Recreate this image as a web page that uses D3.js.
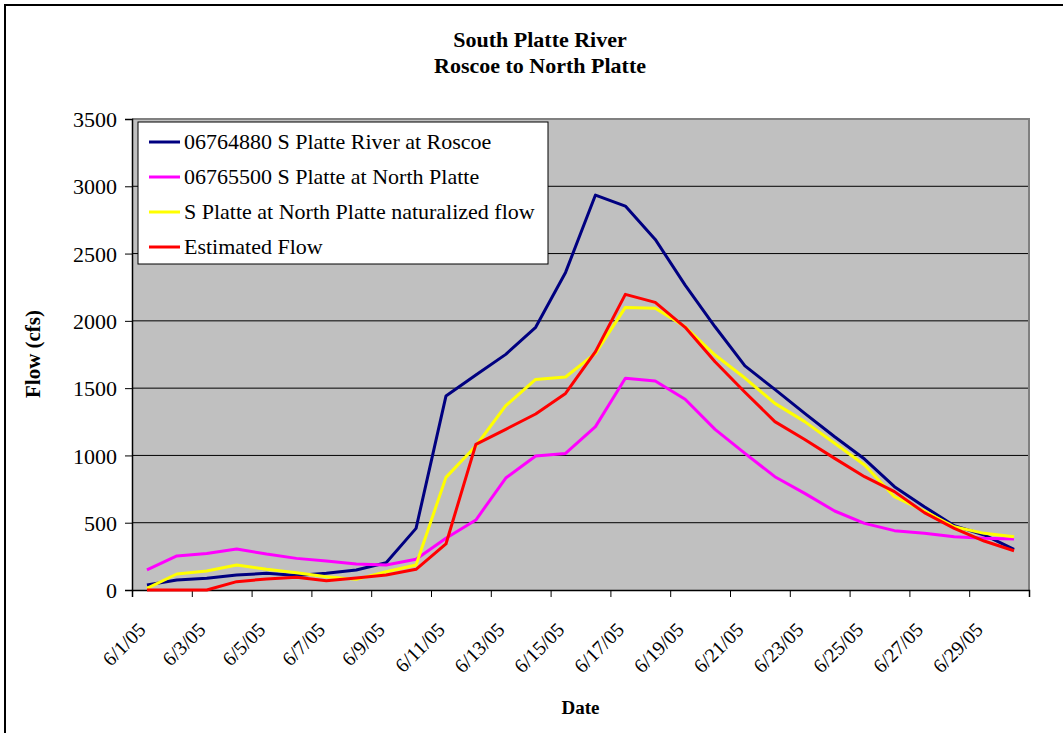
<!DOCTYPE html>
<html>
<head>
<meta charset="utf-8">
<title>South Platte River</title>
<style>
  body { margin: 0; background: #fff; }
  svg text { font-family: "Liberation Serif", "Times New Roman", serif; fill: #000; }
</style>
</head>
<body>
<div id="chart"></div>
<script src="https://d3js.org/d3.v7.min.js"></script>
<script>

// dates 6/1/05 .. 6/30/05
var days = d3.range(1, 31).map(function(d) { return "6/" + d + "/05"; });

var roscoe = [37, 74, 87, 111, 124, 107, 124, 149, 203, 458,
              1441, 1597, 1751, 1952, 2360, 2935, 2853, 2605, 2266, 1956,
              1665, 1491, 1313, 1139, 973, 768, 619, 478, 409, 302];

var northPlatte = [149, 253, 272, 305, 267, 235, 215, 193, 186, 228,
                   384, 520, 832, 996, 1015, 1214, 1573, 1553, 1417, 1194,
                   1015, 842, 718, 587, 495, 441, 421, 396, 384, 379];

var naturalized = [12, 119, 141, 186, 154, 129, 99, 79, 136, 186,
                   837, 1070, 1370, 1565, 1583, 1758, 2100, 2093, 1956, 1746,
                   1575, 1387, 1251, 1090, 929, 693, 587, 470, 421, 396];

var estimated = [0, 0, 0, 62, 82, 94, 69, 89, 111, 154,
                 342, 1082, 1194, 1308, 1461, 1771, 2197, 2137, 1952, 1696,
                 1470, 1251, 1119, 978, 842, 731, 575, 458, 364, 292];

var seriesNames = ["06764880 S Platte River at Roscoe",
                   "06765500 S Platte at North Platte",
                   "S Platte at North Platte naturalized flow",
                   "Estimated Flow"];
var seriesColors = ["#000080", "#FF00FF", "#FFFF00", "#FF0000"];
var allSeries = [roscoe, northPlatte, naturalized, estimated];

var yTicks = [0, 500, 1000, 1500, 2000, 2500, 3000, 3500];

const width = 1063, height = 733;
const plot = {left: 132, right: 1029, top: 119, bottom: 590};

const svg = d3.select('#chart').append('svg')
  .attr('width', width)
  .attr('height', height);

// outer chart border (runs off the right / bottom edge like the original)
svg.append('rect')
  .attr('x', 5).attr('y', 5)
  .attr('width', 1080).attr('height', 760)
  .attr('fill', '#fff')
  .attr('stroke', '#000')
  .attr('stroke-width', 2);

// x is in "day index" units, each day is a band, points sit in the middle
const x = d3.scaleLinear().domain([0, days.length]).range([plot.left, plot.right]);
const y = d3.scaleLinear().domain([0, 3500]).range([plot.bottom, plot.top]);

// plot background
svg.append('rect')
  .attr('x', plot.left).attr('y', plot.top)
  .attr('width', plot.right - plot.left)
  .attr('height', plot.bottom - plot.top)
  .attr('fill', '#C0C0C0');

// gridlines
svg.append('g').selectAll('line')
  .data(yTicks.filter(function(t) { return t > 0 && t < 3500; }))
  .enter().append('line')
  .attr('x1', plot.left).attr('x2', plot.right)
  .attr('y1', d => y(d)).attr('y2', d => y(d))
  .attr('stroke', '#000')
  .attr('stroke-width', 1);

// grey border top + right
svg.append('path')
  .attr('d', `M${plot.left},${plot.top}H${plot.right}V${plot.bottom}`)
  .attr('fill', 'none')
  .attr('stroke', '#808080')
  .attr('stroke-width', 2);

// y axis
const yAxis = d3.axisLeft(y).tickValues(yTicks).tickSize(7).tickPadding(8).tickFormat(d3.format('d'));
const gY = svg.append('g').attr('transform', `translate(${plot.left},0)`).call(yAxis);
gY.select('.domain').attr('stroke', '#000').attr('stroke-width', 1.5);
gY.selectAll('text').style('font-size', '22px').attr('dy', '0.35em');

// x axis: tick marks on the day boundaries every 2 days
const xAxis = d3.axisBottom(x).tickValues(d3.range(0, days.length + 1, 2)).tickSize(7).tickFormat('');
const gX = svg.append('g').attr('transform', `translate(0,${plot.bottom})`).call(xAxis);
gX.select('.domain').attr('stroke', '#000').attr('stroke-width', 1.5);

// x labels (every other day), centered on the day, rotated
svg.append('g').selectAll('text')
  .data(days.filter(function(d, i) { return i % 2 === 0; }))
  .enter().append('text')
  .attr('transform', function(d) {
    var i = days.indexOf(d);
    return `translate(${x(i + 0.5)},${plot.bottom + 41}) rotate(-45)`;
  })
  .attr('text-anchor', 'end')
  .style('font-size', '20px')
  .text(d => d);

// the lines
const line = d3.line()
  .x((d, i) => x(i + 0.5))
  .y(d => y(d));

svg.append('g').selectAll('path')
  .data(allSeries)
  .enter().append('path')
  .attr('d', d => line(d))
  .attr('fill', 'none')
  .attr('stroke', (d, i) => seriesColors[i])
  .attr('stroke-width', 3)
  .attr('stroke-linejoin', 'round');

// titles
svg.append('text')
  .attr('x', 540).attr('y', 47)
  .attr('text-anchor', 'middle')
  .style('font-size', '22px').style('font-weight', 'bold')
  .text('South Platte River');
svg.append('text')
  .attr('x', 540).attr('y', 73)
  .attr('text-anchor', 'middle')
  .style('font-size', '22px').style('font-weight', 'bold')
  .text('Roscoe to North Platte');

svg.append('text')
  .attr('transform', 'translate(40,354) rotate(-90)')
  .attr('text-anchor', 'middle')
  .style('font-size', '21px').style('font-weight', 'bold')
  .text('Flow (cfs)');

svg.append('text')
  .attr('x', (plot.left + plot.right) / 2).attr('y', 714)
  .attr('text-anchor', 'middle')
  .style('font-size', '19px').style('font-weight', 'bold')
  .text('Date');

// legend
const legend = svg.append('g').attr('transform', 'translate(138,122)');
legend.append('rect')
  .attr('width', 410).attr('height', 142)
  .attr('fill', '#fff')
  .attr('stroke', '#000')
  .attr('stroke-width', 1);

const items = legend.selectAll('g.item')
  .data(seriesNames)
  .enter().append('g')
  .attr('class', 'item')
  .attr('transform', (d, i) => `translate(0,${20 + i * 35})`);
items.append('line')
  .attr('x1', 11).attr('x2', 42)
  .attr('stroke', (d, i) => seriesColors[i])
  .attr('stroke-width', 3);
items.append('text')
  .attr('x', 46).attr('y', 7)
  .style('font-size', '22px')
  .text(d => d);

</script>
</body>
</html>
